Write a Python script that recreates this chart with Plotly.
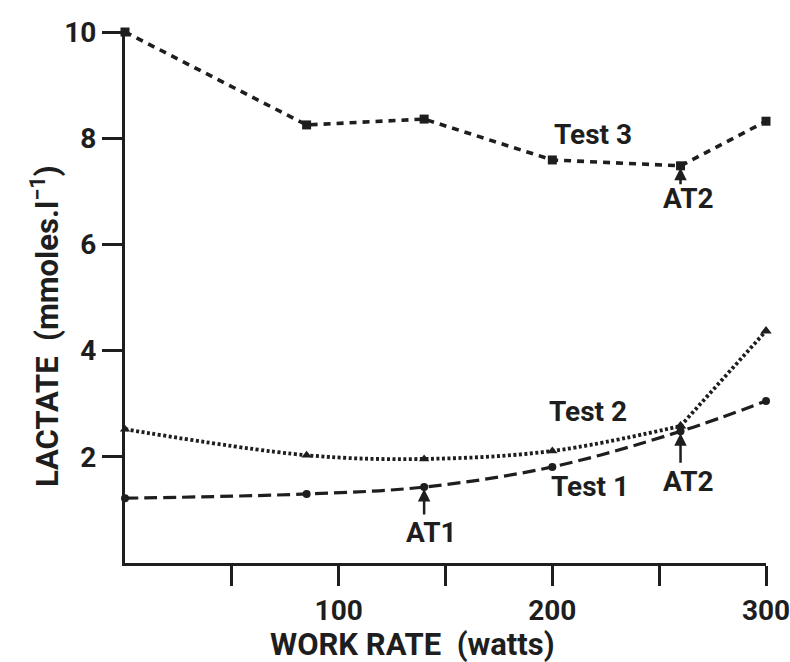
import plotly.graph_objects as go

work_rate = [0, 85, 140, 200, 260, 300]
test1 = [1.22, 1.30, 1.43, 1.81, 2.48, 3.05]
test2 = [2.52, 2.03, 1.96, 2.11, 2.58, 4.37]
test3 = [10.0, 8.25, 8.36, 7.59, 7.48, 8.32]

x_tickvals = [50, 100, 150, 200, 250, 300]
x_ticktext = ["", "100", "", "200", "", "300"]
y_tickvals = [2, 4, 6, 8, 10]
y_ticktext = ["2", "4", "6", "8", "10"]

FONT = "Roboto, Liberation Sans, sans-serif"
INK = "#1e1e1e"

fig = go.Figure()

# Test 1 - long dashes, circles, smooth curve
fig.add_trace(go.Scatter(
    x=work_rate, y=test1, mode="lines+markers", line_shape="spline",
    line=dict(color=INK, width=3.2, dash="13px,6px"),
    marker=dict(symbol="circle", size=8, color=INK), cliponaxis=False,
    showlegend=False))

# Test 2 - dotted, triangles (smooth to AT2, then straight)
fig.add_trace(go.Scatter(
    x=work_rate[:5], y=test2[:5], mode="lines+markers", line_shape="spline",
    line=dict(color=INK, width=3.8, dash="3px,2.5px"),
    marker=dict(symbol="triangle-up", size=9, color=INK), cliponaxis=False,
    showlegend=False))
fig.add_trace(go.Scatter(
    x=work_rate[4:], y=test2[4:], mode="lines+markers",
    line=dict(color=INK, width=3.8, dash="3px,2.5px"),
    marker=dict(symbol="triangle-up", size=10, color=INK), cliponaxis=False,
    showlegend=False))

# Test 3 - short dashes, squares
fig.add_trace(go.Scatter(
    x=work_rate, y=test3, mode="lines+markers",
    line=dict(color=INK, width=3.6, dash="7px,6px"),
    marker=dict(symbol="square", size=9, color=INK), cliponaxis=False,
    showlegend=False))

W, H = 790, 662
L, R, T, B = 125, 24, 32, 99
pw, ph = W - L - R, H - T - B

def px(xpix, ypix):
    return (xpix - L) / pw, 1 - (ypix - T) / ph

def label(text, xpix, ypix, size=28, angle=0):
    x, y = px(xpix, ypix)
    fig.add_annotation(text=text, x=x, y=y, xref="paper", yref="paper",
                       showarrow=False, xanchor="center", yanchor="middle",
                       textangle=angle,
                       font=dict(family=FONT, size=size, color=INK, weight="bold"))

def arrow(x, y, ay):
    fig.add_annotation(text="", x=x, y=y, xref="x", yref="y", ax=0, ay=ay,
                       showarrow=True, arrowhead=2, arrowsize=1.0,
                       arrowwidth=2.5, arrowcolor=INK, standoff=2)

label("Test 3", 593, 134)
label("Test 2", 588, 411)
label("Test 1", 590, 486)
label("AT1", 431, 532)
label("AT2", 688, 481)
label("AT2", 688, 199)

arrow(work_rate[2], test1[2], 29)
arrow(work_rate[4], test1[4], 33)
arrow(work_rate[4], test3[4], 20)

label("WORK RATE  (watts)", 412, 644, size=31)
label("LACTATE  (mmoles.l<sup>−1</sup>)", 45, 326, size=31, angle=-90)

fig.update_layout(
    width=W, height=H, margin=dict(l=L, r=R, t=T, b=B, autoexpand=False),
    paper_bgcolor="white", plot_bgcolor="white",
    font=dict(family=FONT, size=28, color=INK, weight="bold"),
    xaxis=dict(range=[0, 300], tickvals=x_tickvals, ticktext=x_ticktext,
               ticks="outside", ticklen=20, tickwidth=3, tickcolor=INK,
               showline=True, linewidth=3, linecolor=INK, showgrid=False,
               zeroline=False, ticklabeloverflow="allow", automargin=False,
               tickfont=dict(family=FONT, size=28, color=INK, weight="bold")),
    yaxis=dict(range=[0, 10], tickvals=y_tickvals, ticktext=y_ticktext,
               ticks="outside", ticklen=20, tickwidth=3, tickcolor=INK,
               showline=True, linewidth=3, linecolor=INK, showgrid=False,
               zeroline=False, ticklabeloverflow="allow", automargin=False,
               tickfont=dict(family=FONT, size=28, color=INK, weight="bold")),
)

fig.write_html("out.html")
